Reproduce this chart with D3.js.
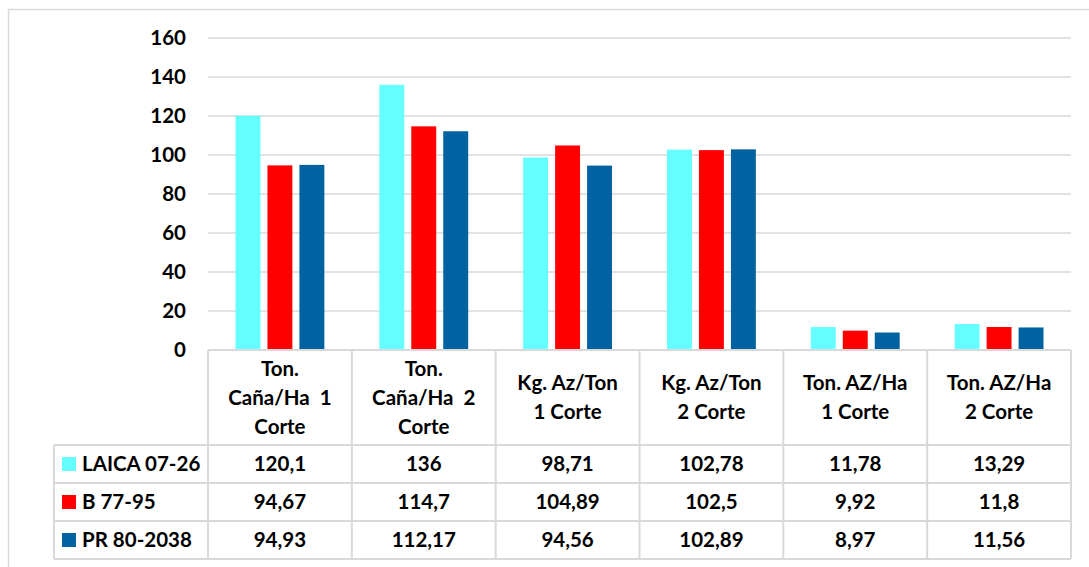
<!DOCTYPE html>
<html>
<head>
<meta charset="utf-8">
<script src="https://cdn.jsdelivr.net/npm/d3@7"></script>
<style>
  body { margin: 0; background: #fff; }
  svg { display: block; font-family: Lato, "Open Sans", sans-serif; font-weight: 700; }
  text { white-space: pre; }
</style>
</head>
<body>
<svg id="chart" width="1089" height="567"></svg>
<script>
// data
const categories = [
  ["Ton.", "Caña/Ha  1", "Corte"],
  ["Ton.", "Caña/Ha  2", "Corte"],
  ["Kg. Az/Ton", "1 Corte"],
  ["Kg. Az/Ton", "2 Corte"],
  ["Ton. AZ/Ha", "1 Corte"],
  ["Ton. AZ/Ha", "2 Corte"]
]
const seriesNames = ["LAICA 07-26", "B 77-95", "PR 80-2038"]
const laica = [120.1, 136, 98.71, 102.78, 11.78, 13.29]
const b7795 = [94.67, 114.7, 104.89, 102.5, 9.92, 11.8]
const pr802038 = [94.93, 112.17, 94.56, 102.89, 8.97, 11.56]
const seriesColors = ["#66ffff", "#ff0000", "#0062a0"]
const yTicks = [0, 20, 40, 60, 80, 100, 120, 140, 160]

const series = [laica, b7795, pr802038]

// layout
const plot = {left: 208, right: 1071, top: 38, bottom: 350}
const tableLeft = 54
const headerBottom = 445
const rowH = 38
const fontSize = 20.5
const gridColor = "#d9d9d9"

const svg = d3.select('#chart')

// outer chart frame
svg.append("rect")
  .attr("x", 8.5).attr("y", 9.5)
  .attr("width", 1100).attr("height", 600)
  .attr("fill", "none")
  .attr("stroke", gridColor)
  .attr("stroke-width", 1.5)

const idx = d3.range(categories.length)
const x0 = d3.scaleBand().domain(idx).range([plot.left, plot.right]).paddingInner(0).paddingOuter(0)
const x1 = d3.scaleBand().domain(d3.range(series.length)).range([0, x0.bandwidth()])
  .paddingInner(0.22).paddingOuter(0.86)
const y = d3.scaleLinear().domain([0, 160]).range([plot.bottom, plot.top])

// gridlines
svg.append("g")
  .selectAll("line")
  .data(yTicks)
  .join("line")
  .attr("x1", plot.left).attr("x2", plot.right)
  .attr("y1", d => y(d)).attr("y2", d => y(d))
  .attr("stroke", gridColor)
  .attr("stroke-width", 1.5)

// y axis labels
svg.append("g")
  .selectAll("text")
  .data(yTicks)
  .join("text")
  .attr("x", 186)
  .attr("y", d => y(d))
  .attr("dy", "0.35em")
  .attr("text-anchor", "end")
  .attr("font-size", fontSize)
  .attr("fill", "#000")
  .text(d => d)

// bars
series.forEach(function(vals, s){
  svg.append("g")
    .selectAll("rect")
    .data(vals)
    .join("rect")
    .attr("x", (d, i) => x0(i) + x1(s))
    .attr("width", x1.bandwidth())
    .attr("y", d => y(d))
    .attr("height", d => y(0) - y(d))
    .attr("fill", seriesColors[s])
})

// data table lines
const tableBottom = headerBottom + rowH * series.length
const lines = svg.append("g").attr("stroke", gridColor).attr("stroke-width", 2)
// vertical lines of the columns
x0.domain().concat([categories.length]).forEach(function(i){
  const xx = i < categories.length ? x0(i) : plot.right
  lines.append("line").attr("x1", xx).attr("x2", xx).attr("y1", plot.bottom).attr("y2", tableBottom)
})
lines.append("line").attr("x1", tableLeft).attr("x2", tableLeft).attr("y1", headerBottom).attr("y2", tableBottom)
// horizontal lines
lines.append("line").attr("x1", plot.left).attr("x2", plot.right).attr("y1", plot.bottom).attr("y2", plot.bottom)
d3.range(series.length + 1).forEach(function(r){
  const yy = headerBottom + r * rowH
  lines.append("line").attr("x1", tableLeft).attr("x2", plot.right).attr("y1", yy).attr("y2", yy)
})

// category header labels
const lineH = 29
const headerMid = (plot.bottom + headerBottom) / 2
idx.forEach(function(i){
  const lbl = categories[i]
  svg.append("g")
    .selectAll("text")
    .data(lbl)
    .join("text")
    .attr("x", x0(i) + x0.bandwidth() / 2)
    .attr("y", (d, k) => headerMid + (k - (lbl.length - 1) / 2) * lineH)
    .attr("dy", "0.35em")
    .attr("text-anchor", "middle")
    .attr("font-size", fontSize)
    .attr("fill", "#000")
    .text(d => d)
})

// legend keys + names + values
const fmt = v => String(v).replace(".", ",")
series.forEach(function(vals, s){
  const cy = headerBottom + s * rowH + rowH / 2
  svg.append("rect")
    .attr("x", 62).attr("y", cy - 7)
    .attr("width", 14).attr("height", 14)
    .attr("fill", seriesColors[s])
  svg.append("text")
    .attr("x", 82).attr("y", cy)
    .attr("dy", "0.35em")
    .attr("font-size", fontSize)
    .text(seriesNames[s])
  svg.append("g")
    .selectAll("text")
    .data(vals)
    .join("text")
    .attr("x", (d, i) => x0(i) + x0.bandwidth() / 2)
    .attr("y", cy)
    .attr("dy", "0.35em")
    .attr("text-anchor", "middle")
    .attr("font-size", fontSize)
    .text(d => fmt(d))
})
</script>
</body>
</html>
